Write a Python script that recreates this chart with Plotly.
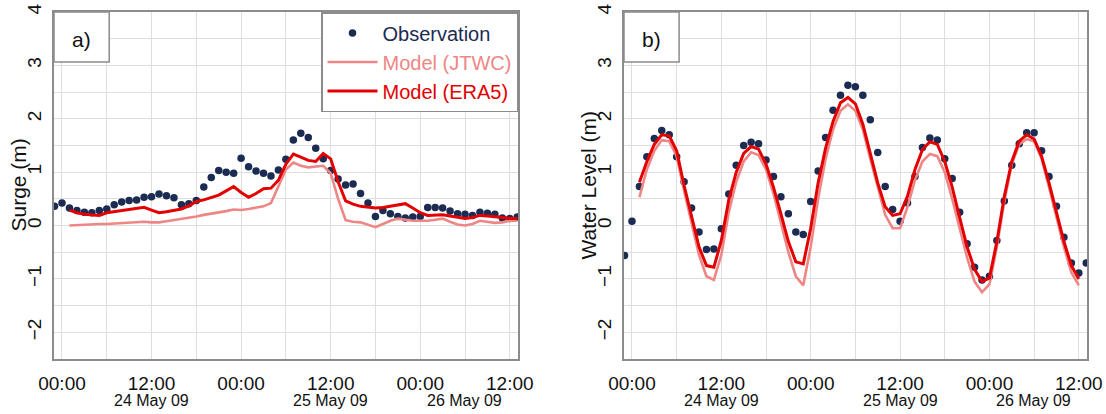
import pandas as pd
import plotly.graph_objects as go

# ---------------- data ----------------
T0 = pd.Timestamp("2009-05-24 00:00")

# panel a) surge
surge_obs_hours = list(range(-1, 62))
surge_obs = [0.36, 0.42, 0.33, 0.28, 0.25, 0.24, 0.28, 0.31, 0.39, 0.44, 0.47, 0.48,
             0.53, 0.54, 0.59, 0.56, 0.52, 0.39, 0.41, 0.47, 0.72, 0.90, 1.03, 1.00,
             0.98, 1.26, 1.10, 1.02, 0.98, 0.93, 1.04, 1.24, 1.60, 1.73, 1.65, 1.45,
             1.25, 1.03, 0.87, 0.76, 0.78, 0.60, 0.42, 0.17, 0.28, 0.22, 0.17, 0.14,
             0.16, 0.17, 0.34, 0.34, 0.33, 0.27, 0.22, 0.21, 0.19, 0.25, 0.23, 0.21,
             0.14, 0.13, 0.16]
surge_model_hours = list(range(1, 62))
surge_era5 = [0.29, 0.24, 0.21, 0.20, 0.19, 0.24, 0.26, 0.28, 0.30, 0.32, 0.34, 0.29,
              0.24, 0.26, 0.28, 0.31, 0.37, 0.45, 0.48, 0.53, 0.57, 0.65, 0.73, 0.62,
              0.53, 0.60, 0.69, 0.70, 0.85, 1.15, 1.34, 1.28, 1.22, 1.20, 1.35, 1.25,
              0.82, 0.46, 0.40, 0.36, 0.35, 0.33, 0.34, 0.36, 0.39, 0.41, 0.33, 0.24,
              0.19, 0.19, 0.20, 0.18, 0.15, 0.13, 0.15, 0.19, 0.18, 0.17, 0.15, 0.13,
              0.13]
surge_jtwc = [0.00, 0.01, 0.02, 0.02, 0.03, 0.03, 0.04, 0.04, 0.05, 0.06, 0.07, 0.06,
              0.06, 0.08, 0.10, 0.12, 0.14, 0.17, 0.20, 0.22, 0.24, 0.27, 0.30, 0.29,
              0.31, 0.33, 0.36, 0.42, 0.75, 1.05, 1.18, 1.12, 1.09, 1.10, 1.12, 0.98,
              0.50, 0.10, 0.07, 0.06, 0.02, -0.03, 0.03, 0.09, 0.13, 0.11, 0.09, 0.09,
              0.09, 0.11, 0.13, 0.07, 0.02, 0.00, 0.03, 0.09, 0.07, 0.05, 0.06, 0.09,
              0.09]

# panel b) water level
wl_obs_hours = list(range(-1, 62))
wl_obs = [-0.56, 0.08, 0.73, 1.29, 1.63, 1.78, 1.70, 1.29, 0.82, 0.33, -0.12, -0.45,
          -0.44, -0.06, 0.59, 1.13, 1.50, 1.56, 1.53, 1.23, 0.92, 0.54, 0.22, -0.12,
          -0.17, 0.45, 1.02, 1.65, 2.16, 2.44, 2.63, 2.60, 2.44, 1.98, 1.37, 0.73,
          0.30, 0.08, 0.42, 0.92, 1.46, 1.64, 1.60, 1.25, 0.88, 0.25, -0.34, -0.78,
          -1.02, -0.95, -0.28, 0.46, 1.13, 1.53, 1.74, 1.74, 1.40, 0.92, 0.36, -0.22,
          -0.70, -0.89, -0.70]
wl_model_hours = list(range(1, 61))
wl_era5 = [0.81, 1.20, 1.52, 1.70, 1.68, 1.40, 0.75, 0.15, -0.40, -0.75, -0.78, -0.28,
           0.48, 1.00, 1.35, 1.48, 1.43, 1.15, 0.72, 0.22, -0.30, -0.68, -0.72, -0.05,
           0.80, 1.45, 1.95, 2.30, 2.40, 2.28, 1.90, 1.35, 0.80, 0.35, 0.19, 0.22,
           0.55, 1.05, 1.42, 1.57, 1.52, 1.20, 0.72, 0.15, -0.40, -0.82, -1.05, -0.98,
           -0.30, 0.55, 1.20, 1.58, 1.70, 1.62, 1.30, 0.80, 0.25, -0.30, -0.75, -1.00]
wl_jtwc = [0.53, 1.05, 1.40, 1.60, 1.58, 1.30, 0.65, 0.02, -0.55, -0.95, -1.02, -0.55,
           0.25, 0.82, 1.20, 1.37, 1.32, 1.05, 0.60, 0.05, -0.50, -0.95, -1.12, -0.40,
           0.50, 1.25, 1.80, 2.15, 2.27, 2.15, 1.80, 1.25, 0.70, 0.20, -0.05, -0.05,
           0.35, 0.85, 1.20, 1.34, 1.30, 1.00, 0.50, -0.05, -0.60, -1.05, -1.25, -1.10,
           -0.40, 0.45, 1.15, 1.52, 1.62, 1.58, 1.25, 0.72, 0.15, -0.40, -0.88, -1.12]

x_tickvals = ["2009-05-24 00:00", "2009-05-24 12:00", "2009-05-25 00:00",
              "2009-05-25 12:00", "2009-05-26 00:00", "2009-05-26 12:00"]
x_ticktext = ["00:00", "12:00", "00:00", "12:00", "00:00", "12:00"]
date_labels = ["24 May 09", "25 May 09", "26 May 09"]
date_positions = ["2009-05-24 12:00", "2009-05-25 12:00", "2009-05-26 12:00"]
y_tickvals = [-2, -1, 0, 1, 2, 3, 4]

panel_labels = ["a)", "b)"]
y_titles = ["Surge (m)", "Water Level (m)"]
series_names = ["Observation", "Model (JTWC)", "Model (ERA5)"]

# ---------------- styles ----------------
C_OBS = "#1b2b52"
C_JTWC = "#ee8686"
C_ERA5 = "#e30000"
FONT = "Liberation Sans, Arial, sans-serif"
GRID = "#dedede"
FRAME = "#8c8c8c"
TXT = "#111"


def to_time(hours):
    return T0 + pd.to_timedelta(hours, unit="h")


fig = go.Figure()

panels = [
    ("x", "y", surge_obs_hours, surge_obs, surge_model_hours, surge_jtwc, surge_era5, True),
    ("x2", "y2", wl_obs_hours, wl_obs, wl_model_hours, wl_jtwc, wl_era5, False),
]
for xa, ya, oh, ov, mh, jv, ev, leg in panels:
    fig.add_trace(go.Scatter(
        x=to_time(oh), y=ov, mode="markers", xaxis=xa, yaxis=ya,
        marker=dict(color=C_OBS, size=7.5),
        name=f"<span style='color:{C_OBS}'>{series_names[0]}</span>",
        showlegend=leg))
    fig.add_trace(go.Scatter(
        x=to_time(mh), y=jv, mode="lines", xaxis=xa, yaxis=ya,
        line=dict(color=C_JTWC, width=2.6),
        name=f"<span style='color:{C_JTWC}'>{series_names[1]}</span>",
        showlegend=leg))
    fig.add_trace(go.Scatter(
        x=to_time(mh), y=ev, mode="lines", xaxis=xa, yaxis=ya,
        line=dict(color=C_ERA5, width=3),
        name=f"<span style='color:{C_ERA5}'>{series_names[2]}</span>",
        showlegend=leg))

W, H = 1106, 414
M_T, M_B = 12, 55
dom_a = [54 / W, 518 / W]
dom_b = [624 / W, 1087 / W]

xcommon = dict(
    type="date", automargin=False, ticklabeloverflow="allow",
    range=[to_time(-1.07), to_time(61.1)],
    tickmode="array", tickvals=x_tickvals, ticktext=x_ticktext,
    tickfont=dict(family=FONT, size=19, color=TXT),
    ticks="", ticklabelstandoff=6,
    showgrid=True, gridcolor=GRID, gridwidth=1,
    minor=dict(dtick=6 * 3600 * 1000, tick0="2009-05-24", showgrid=True,
               gridcolor=GRID, gridwidth=1),
    showline=True, linecolor=FRAME, linewidth=1.5, mirror=True,
    zeroline=False,
)
ycommon = dict(
    range=[-2.5, 4], automargin=False, ticklabeloverflow="allow",
    tickmode="array", tickvals=y_tickvals,
    tickangle=-90,
    tickfont=dict(family=FONT, size=19, color=TXT),
    ticks="", ticklabelstandoff=4,
    showgrid=True, gridcolor=GRID, gridwidth=1,
    minor=dict(dtick=0.5, tick0=0, showgrid=True, gridcolor=GRID, gridwidth=1),
    showline=True, linecolor=FRAME, linewidth=1.5, mirror=True,
    zeroline=False,
)

fig.update_layout(
    width=W, height=H,
    margin=dict(l=0, r=0, t=M_T, b=M_B),
    paper_bgcolor="white", plot_bgcolor="white",
    font=dict(family=FONT, size=19, color=TXT),
    xaxis=dict(domain=dom_a, anchor="y", **xcommon),
    yaxis=dict(domain=[0, 1], anchor="x", **ycommon),
    xaxis2=dict(domain=dom_b, anchor="y2", **xcommon),
    yaxis2=dict(domain=[0, 1], anchor="x2", **ycommon),
    legend=dict(
        x=dom_a[1], y=1, xanchor="right", yanchor="top",
        bgcolor="white", bordercolor=FRAME, borderwidth=1.5,
        font=dict(family=FONT, size=20),
        itemwidth=50, tracegroupgap=0,
    ),
    showlegend=True,
)

plot_h = H - M_T - M_B
date_y = (H - M_B - 401) / plot_h  # paper coordinate of the date row

for i, (xa, ya) in enumerate([("x", "y"), ("x2", "y2")]):
    xd, yd = f"{xa} domain", f"{ya} domain"
    # panel label boxes
    fig.add_shape(type="rect", xref=xd, yref=yd, x0=0, x1=0.119, y0=0.856, y1=1,
                  line=dict(color=FRAME, width=1.5), fillcolor="white", layer="above")
    fig.add_annotation(xref=xd, yref=yd, x=0.06, y=0.922, text=panel_labels[i],
                       showarrow=False, xanchor="center", yanchor="middle",
                       font=dict(family=FONT, size=21, color=TXT))
    # y titles
    fig.add_annotation(xref=xd, yref=yd, x=-36 / 464, y=0.5, text=y_titles[i],
                       textangle=-90, showarrow=False, xanchor="center", yanchor="middle",
                       font=dict(family=FONT, size=21, color=TXT))
    # date row under the 12:00 ticks (last one kept inside the panel)
    for j, (dl, dp) in enumerate(zip(date_labels, date_positions)):
        if j < len(date_labels) - 1:
            fig.add_annotation(xref=xa, yref="paper", x=dp, y=date_y, text=dl,
                               showarrow=False, xanchor="center", yanchor="middle",
                               font=dict(family=FONT, size=16, color=TXT))
        else:
            fig.add_annotation(xref=xd, yref="paper", x=0.97, y=date_y, text=dl,
                               showarrow=False, xanchor="right", yanchor="middle",
                               font=dict(family=FONT, size=16, color=TXT))

fig.write_html("out.html")
